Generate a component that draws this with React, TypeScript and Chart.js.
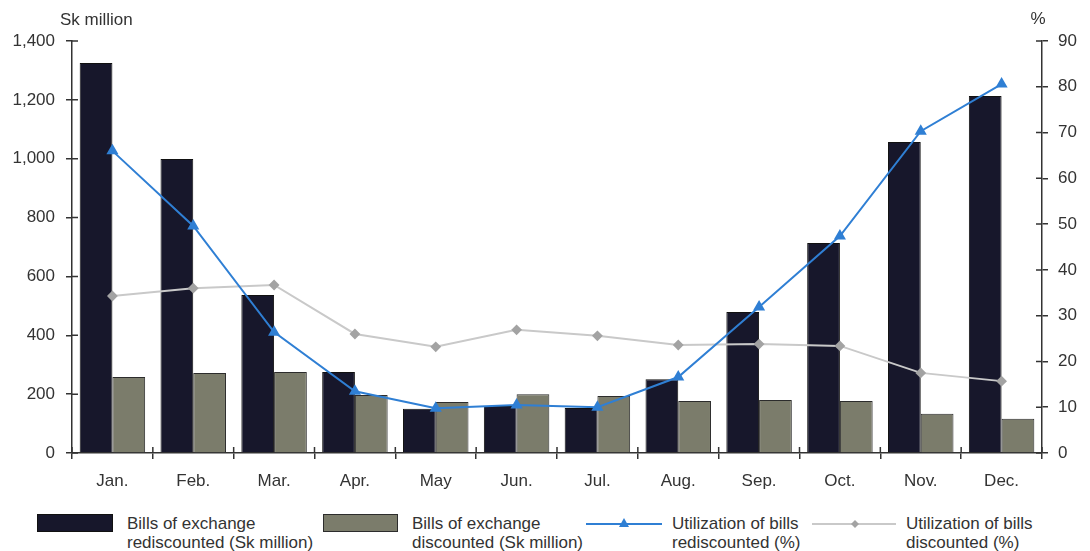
import React, { useEffect, useRef } from "react";
import { Chart, registerables } from "chart.js";

Chart.register(...registerables);

const months = ["Jan.", "Feb.", "Mar.", "Apr.", "May", "Jun.", "Jul.", "Aug.", "Sep.", "Oct.", "Nov.", "Dec."];
const rediscounted = [1325, 999, 537, 275, 150, 160, 153, 251, 479, 714, 1057, 1213];
const discounted = [258, 272, 275, 197, 173, 200, 194, 177, 180, 177, 133, 116];
const utilRediscounted = [66.0, 49.6, 26.4, 13.5, 9.8, 10.5, 10.0, 16.6, 31.9, 47.4, 70.3, 80.6];
const utilDiscounted = [34.3, 36.0, 36.7, 26.0, 23.2, 26.9, 25.6, 23.6, 23.8, 23.4, 17.5, 15.7];

const FONT = "'Liberation Sans', Arial, sans-serif";
const AXIS = "#333333";
const FS = 17;

const innerTicks = {
  id: "innerTicks",
  afterDraw(chart: any) {
    const ctx = chart.ctx;
    const { left, right, bottom } = chart.chartArea;
    const y = chart.scales.y;
    const y1 = chart.scales.y1;
    const x = chart.scales.x;
    ctx.save();
    ctx.strokeStyle = AXIS;
    ctx.lineWidth = 1.5;
    ctx.beginPath();
    y.ticks.forEach((t: any) => {
      const py = y.getPixelForValue(t.value);
      ctx.moveTo(left, py);
      ctx.lineTo(left + 6, py);
    });
    y1.ticks.forEach((t: any) => {
      const py = y1.getPixelForValue(t.value);
      ctx.moveTo(right, py);
      ctx.lineTo(right - 6, py);
    });
    const n = months.length;
    for (let i = 0; i <= n; i++) {
      const px = x.getPixelForValue(0) + (i - 0.5) * (x.getPixelForValue(1) - x.getPixelForValue(0));
      ctx.moveTo(px, bottom);
      ctx.lineTo(px, bottom - 6);
    }
    ctx.stroke();
    ctx.fillStyle = AXIS;
    ctx.font = `${FS}px ${FONT}`;
    ctx.textBaseline = "middle";
    ctx.textAlign = "left";
    ctx.fillText("Sk million", 60, 20);
    ctx.textAlign = "center";
    ctx.fillText("%", right - 4, 19);
    ctx.restore();
  },
};

export default function App() {
  const ref = useRef<HTMLCanvasElement>(null);

  useEffect(() => {
    document.body.style.margin = "0";
    if (!ref.current) return;
    const chart = new Chart(ref.current, {
      type: "bar",
      data: {
        labels: months,
        datasets: [
          {
            type: "line",
            label: "Utilization of bills rediscounted (%)",
            data: utilRediscounted,
            yAxisID: "y1",
            borderColor: "#2f7fd4",
            backgroundColor: "#2f7fd4",
            borderWidth: 2,
            pointStyle: "triangle",
            pointRadius: 5,
            tension: 0,
            order: 0,
          } as any,
          {
            type: "line",
            label: "Utilization of bills discounted (%)",
            data: utilDiscounted,
            yAxisID: "y1",
            borderColor: "#c9c9c9",
            backgroundColor: "#a3a3a3",
            pointBorderColor: "#a3a3a3",
            borderWidth: 2,
            pointStyle: "rectRot",
            pointRadius: 4,
            tension: 0,
            order: 1,
          } as any,
          {
            label: "Bills of exchange rediscounted (Sk million)",
            data: rediscounted,
            yAxisID: "y",
            backgroundColor: "#17172b",
            borderColor: "#111111",
            borderWidth: 1,
            categoryPercentage: 0.81,
            barPercentage: 1,
            order: 2,
          },
          {
            label: "Bills of exchange discounted (Sk million)",
            data: discounted,
            yAxisID: "y",
            backgroundColor: "#7b7c6b",
            borderColor: "#2c2c2c",
            borderWidth: 1,
            categoryPercentage: 0.81,
            barPercentage: 1,
            order: 3,
          },
        ],
      },
      options: {
        animation: false,
        responsive: true,
        maintainAspectRatio: false,
        layout: { padding: { top: 41, left: 0, right: 0, bottom: 0 } },
        plugins: { legend: { display: false }, tooltip: { enabled: false } },
        scales: {
          x: {
            offset: true,
            grid: { display: true, drawOnChartArea: false, offset: true, tickLength: 6, color: AXIS, lineWidth: 1.5 },
            border: { color: AXIS, width: 1.5 },
            ticks: { color: AXIS, font: { family: FONT, size: FS }, padding: 12 },
            afterFit: (s: any) => { s.height = 52; },
          },
          y: {
            position: "left",
            min: 0,
            max: 1400,
            ticks: {
              stepSize: 200,
              color: AXIS,
              font: { family: FONT, size: FS },
              padding: 11,
              callback: (v: any) => Number(v).toLocaleString("en-US"),
            },
            grid: { drawOnChartArea: false, tickLength: 6, color: AXIS, lineWidth: 1.5 },
            border: { color: AXIS, width: 1.5 },
            afterFit: (s: any) => { s.width = 72; },
          },
          y1: {
            position: "right",
            min: 0,
            max: 90,
            ticks: { stepSize: 10, color: AXIS, font: { family: FONT, size: FS }, padding: 10 },
            grid: { drawOnChartArea: false, tickLength: 6, color: AXIS, lineWidth: 1.5 },
            border: { color: AXIS, width: 1.5 },
            afterFit: (s: any) => { s.width = 48; },
          },
        },
      },
      plugins: [innerTicks],
    });
    return () => chart.destroy();
  }, []);

  const textStyle: React.CSSProperties = {
    position: "absolute",
    fontFamily: FONT,
    fontSize: FS,
    lineHeight: "19px",
    color: AXIS,
    whiteSpace: "nowrap",
  };

  return (
    <div style={{ position: "relative", width: 1090, height: 551, background: "#fff" }}>
      <div style={{ position: "absolute", left: 0, top: 0, width: 1090, height: 505 }}>
        <canvas ref={ref} />
      </div>
      <div style={{ position: "absolute", left: 37, top: 514, width: 76, height: 18, background: "#17172b", boxSizing: "border-box", border: "1px solid #111" }} />
      <div style={{ ...textStyle, left: 127, top: 514 }}>Bills of exchange<br />rediscounted (Sk million)</div>
      <div style={{ position: "absolute", left: 323, top: 514, width: 75, height: 18, background: "#7b7c6b", boxSizing: "border-box", border: "1px solid #2c2c2c" }} />
      <div style={{ ...textStyle, left: 412, top: 514 }}>Bills of exchange<br />discounted (Sk million)</div>
      <svg style={{ position: "absolute", left: 586, top: 514 }} width={76} height={20}>
        <line x1={0} y1={10} x2={76} y2={10} stroke="#2f7fd4" strokeWidth={2} />
        <polygon points="38,4 43,13 33,13" fill="#2f7fd4" />
      </svg>
      <div style={{ ...textStyle, left: 672, top: 514 }}>Utilization of bills<br />rediscounted (%)</div>
      <svg style={{ position: "absolute", left: 812, top: 514 }} width={84} height={20}>
        <line x1={0} y1={10} x2={84} y2={10} stroke="#c9c9c9" strokeWidth={2} />
        <polygon points="43,6 47,10 43,14 39,10" fill="#a3a3a3" />
      </svg>
      <div style={{ ...textStyle, left: 906, top: 514 }}>Utilization of bills<br />discounted (%)</div>
    </div>
  );
}
